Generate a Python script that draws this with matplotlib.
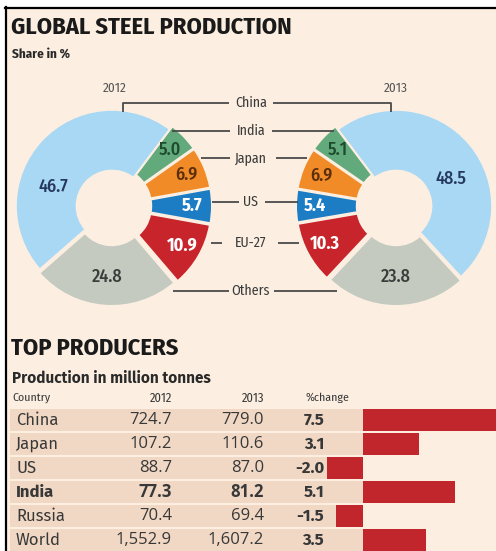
import numpy as np
import matplotlib
matplotlib.use('Agg')
import matplotlib.pyplot as plt
from matplotlib import font_manager
from matplotlib.patches import Rectangle

W, H = 496, 551

# share in %, donuts
regions = ['China', 'India', 'Japan', 'US', 'EU-27', 'Others']
share_2012 = [46.7, 5.0, 6.9, 5.7, 10.9, 24.8]
share_2013 = [48.5, 5.1, 6.9, 5.4, 10.3, 23.8]
region_colors = ['#a9d8f5', '#62a97c', '#f08b27', '#1c7dc4', '#c8242c', '#c4cac0']
value_colors = ['#26395c', '#1d4b2d', '#5a2d0b', 'white', 'white', '#3a3d3a']

# top producers table
countries = ['China', 'Japan', 'US', 'India', 'Russia', 'World']
prod_2012 = [724.7, 107.2, 88.7, 77.3, 70.4, 1552.9]
prod_2013 = [779.0, 110.6, 87.0, 81.2, 69.4, 1607.2]
pct_change = [7.5, 3.1, -2.0, 5.1, -1.5, 3.5]

bg = '#fcefe1'
band = '#f0d8c4'
red = '#c1262d'
txt = '#383838'

names = {f.name for f in font_manager.fontManager.ttflist}


def pick(*fams):
    for f in fams:
        if f in names:
            return f
    return 'DejaVu Sans'


cond = pick('Fira Sans Condensed', 'Roboto Condensed', 'PT Sans Narrow', 'Asap Condensed',
            'Barlow Semi Condensed', 'Liberation Sans Narrow', 'Liberation Sans')
body = pick('Fira Sans', 'Lato', 'Liberation Sans')
nums = pick('Open Sans', 'Liberation Sans')

fig = plt.figure(figsize=(W / 100, H / 100), dpi=100, facecolor=bg)

# main axes in pixel coordinates (y down), drawn on top of the others
ax = fig.add_axes([0, 0, 1, 1])
ax.set_xlim(0, W)
ax.set_ylim(H, 0)
ax.axis('off')
ax.set_zorder(10)

ax.add_patch(Rectangle((0, 0), W, 7, color='white', zorder=0))
ax.add_patch(Rectangle((0, 0), 5, H, color='white', zorder=0))
ax.plot([5, W], [7.5, 7.5], color='black', lw=1.6)
ax.plot([5.5, 5.5], [7, H], color='black', lw=1.6)

ax.text(11, 34, 'GLOBAL STEEL PRODUCTION', family=cond, weight='bold', fontsize=17.5, color='#1a1a1a')
ax.text(12, 58, 'Share in %', family=cond, weight='bold', fontsize=9.5, color='#2a2a2a')

# donuts: order going round from the US slice
order = [3, 2, 1, 0, 5, 4]
R = 96


def donut(cx, cy, shares, ccw, china_ang, year):
    s = 1.15 * R
    pax = fig.add_axes([(cx - s) / W, (H - cy - s) / H, 2 * s / W, 2 * s / H])
    vals = [shares[i] for i in order]
    cols = [region_colors[i] for i in order]
    expl = [0 if i == 0 else 0.04 for i in order]
    start = -shares[3] * 1.8 if ccw else 180 + shares[3] * 1.8
    wedges, _ = pax.pie(vals, colors=cols, explode=expl, startangle=start,
                        counterclock=ccw, radius=1,
                        wedgeprops=dict(width=0.63, edgecolor=bg, linewidth=1.2))
    pax.set_xlim(-1.15, 1.15)
    pax.set_ylim(-1.15, 1.15)
    pax.axis('off')
    for w, i in zip(wedges, order):
        if i == 0:
            ang, r = china_ang, 0.64
        else:
            ang, r = (w.theta1 + w.theta2) / 2, 0.8 if i != 5 else 0.7
        x0, y0 = w.center
        pax.text(x0 + r * np.cos(np.radians(ang)), y0 + r * np.sin(np.radians(ang)),
                 f'{shares[i]:.1f}', ha='center', va='center', fontsize=13,
                 family=cond, weight='bold' if i in (3, 4) else 'medium',
                 color=value_colors[i])
    ax.text(cx + (3 if ccw else 0), 88, year, ha='center', va='center', fontsize=9.5,
            family=cond, color='#555555')


donut(112, 206, share_2012, True, 162, '2012')
donut(396, 206, share_2013, False, 26, '2013')

# centre labels and leader lines
lab_y = [103, 131, 158, 202, 243, 291]
left_lines = [[(123, 112), (123, 103), (229, 103)], [(172, 131), (230, 131)],
              [(201, 158), (230, 158)], [(212, 202), (239, 202)],
              [(211, 243), (222, 243)], [(173, 291), (229, 291)]]
right_lines = [[(273, 103), (391, 103), (391, 112)], [(272, 131), (334, 131)],
               [(276, 158), (307, 158)], [(265, 202), (298, 202)],
               [(278, 243), (299, 243)], [(274, 291), (337, 291)]]
for name, y, ll, rl in zip(regions, lab_y, left_lines, right_lines):
    ax.text(251, y, name, ha='center', va='center', fontsize=10, family=cond, color='#3a3a3a')
    for pts in (ll, rl):
        xs, ys = zip(*pts)
        ax.plot(xs, ys, color='#4a4a4a', lw=1.3, solid_capstyle='butt')

# top producers
ax.text(11, 355, 'TOP PRODUCERS', family=cond, weight='bold', fontsize=17.5, color='#1a1a1a')
ax.text(12, 383, 'Production in million tonnes', family=body, weight='bold', fontsize=11, color='#2a2a2a')
ax.text(12, 398, 'Country', family=cond, fontsize=8.5, va='center', color=txt)
ax.text(172, 398, '2012', family=cond, fontsize=9, va='center', ha='right', color=txt)
ax.text(264, 398, '2013', family=cond, fontsize=9, va='center', ha='right', color=txt)
ax.text(327, 398, '%change', family=cond, fontsize=8.5, va='center', ha='center', color=txt)

zero_px, scale = 363, 18.0
bax = fig.add_axes([10 / W, (H - 552) / H, (W - 10) / W, 144 / H])
x_lo = (10 - zero_px) / scale
bax.set_xlim(x_lo, (W - zero_px) / scale)
bax.set_ylim(5.5, -0.5)
bax.axis('off')
rows = np.arange(len(countries))
bax.barh(rows, -x_lo, left=x_lo, height=0.9, color=band)
bax.barh(rows, pct_change, height=0.88, color=red)

for i, c in enumerate(countries):
    y = 420 + 24 * i
    wt = 'bold' if c == 'India' else 'normal'
    ax.text(16, y, c, family=body, fontsize=12, weight=wt, va='center', color=txt)
    ax.text(172, y, f'{prod_2012[i]:,.1f}', family=nums, fontsize=12, weight=wt, va='center', ha='right', color=txt)
    ax.text(264, y, f'{prod_2013[i]:,.1f}', family=nums, fontsize=12, weight=wt, va='center', ha='right', color=txt)
    ax.text(324, y, f'{pct_change[i]:.1f}', family=body, fontsize=12, weight='bold', va='center', ha='right', color=txt)

fig.savefig('out.png', dpi=100, facecolor=bg)
